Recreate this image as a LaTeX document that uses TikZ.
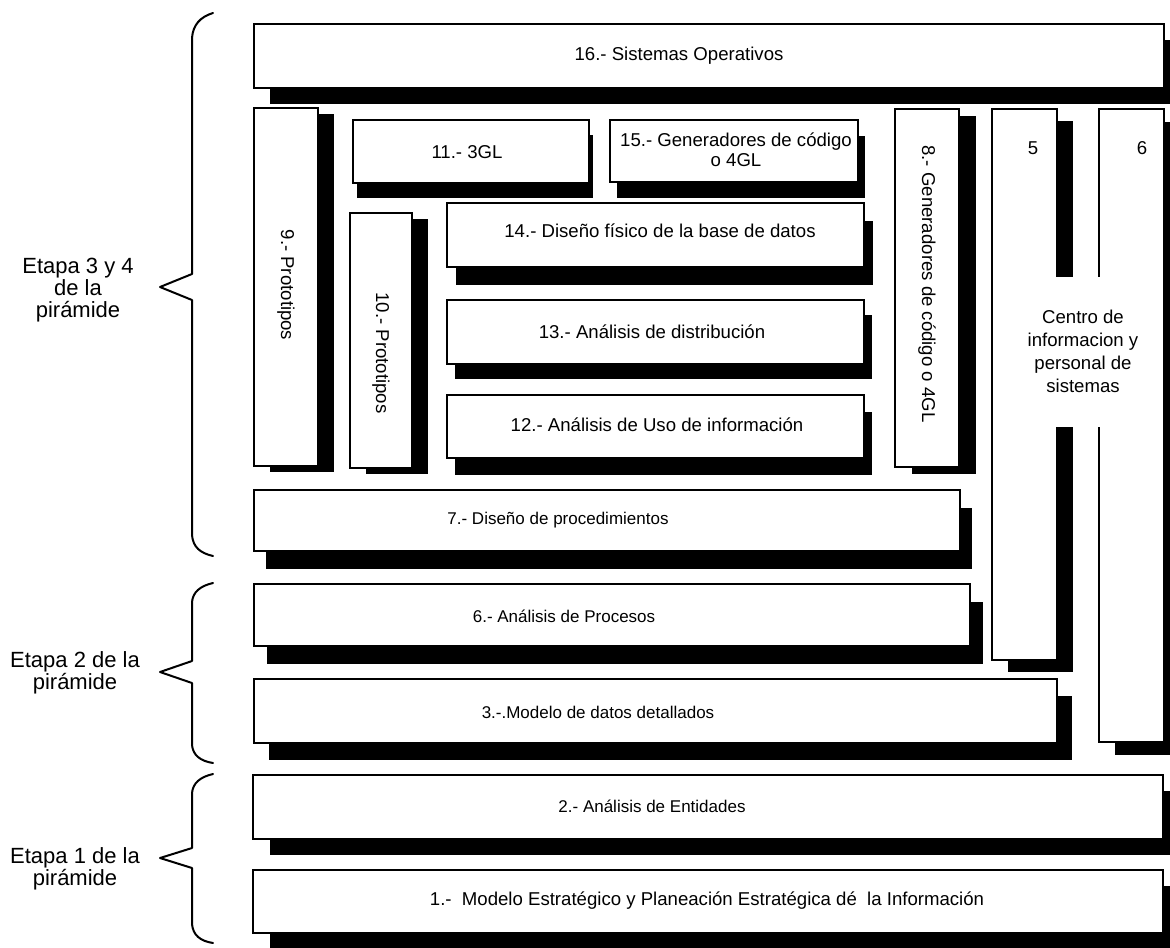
\documentclass[tikz,border=0pt]{standalone}
\usepackage{fontspec}
\setmainfont{Liberation Sans}
\usetikzlibrary{fit}
\newcommand\shbox[7]{% name, x1,y1,x2,y2,dx,dy
  \fill[black] ({#2+#6},{#3+#7}) rectangle ({#4+#6},{#5+#7});
  \node[box, fit={(#2,#3) (#4,#5)}] (#1) {};
}
\begin{document}
\begin{tikzpicture}[x=0.5pt,y=-0.5pt,
  box/.style={draw=black, line width=1.1pt, fill=white, inner sep=0pt, outer sep=0pt},
  txt/.style={font=\fontsize{9.3}{11.5}\selectfont, align=center, inner sep=0pt},
  txtb/.style={font=\fontsize{8.5}{10}\selectfont, align=center, inner sep=0pt},
  etapa/.style={font=\fontsize{11}{11}\selectfont, align=center, inner sep=0pt},
  brace/.style={draw=black, line width=1pt, line join=round, line cap=round}]
\clip (0,0) rectangle (1170,947);
\fill[white] (0,0) rectangle (1170,947);

% braces
\draw[brace] (213,13) .. controls (200,17) and (193,25) .. (192,38) -- (192,274) -- (160,287) -- (192,300) -- (192,535) .. controls (193,547) and (200,553) .. (213,556);
\draw[brace] (213,583) .. controls (200,586) and (193,592) .. (192,602) -- (192,661) -- (160,672) -- (192,683) -- (192,745) .. controls (193,755) and (200,761) .. (213,763);
\draw[brace] (213,774) .. controls (200,777) and (193,783) .. (192,793) -- (192,848) -- (160,858) -- (192,868) -- (192,924) .. controls (193,935) and (200,941) .. (213,943);

\node[etapa] (e34) at (78,290) {Etapa 3 y 4\\de la\\pirámide};
\node[etapa] (e2) at (75,673) {Etapa 2 de la\\pirámide};
\node[etapa] (e1) at (75,869) {Etapa 1 de la\\pirámide};

% boxes
\shbox{b16}{254}{24}{1164}{88}{16}{16}
\shbox{b9}{254}{108}{318}{466}{16}{6}
\shbox{b10}{350}{213}{412}{468}{16}{6}
\shbox{b11}{353}{120}{589}{183}{4}{15}
\shbox{b15}{610}{120}{858}{182}{7}{16}
\shbox{b14}{447}{203}{864}{267}{9}{18}
\shbox{b13}{447}{300}{864}{364}{8}{15}
\shbox{b12}{447}{395}{864}{458}{8}{17}
\shbox{b8}{895}{109}{959}{467}{17}{7}
\shbox{b5}{992}{109}{1057}{660}{16}{12}
\shbox{b6c}{1099}{109}{1164}{742}{16}{13}
\shbox{b7}{254}{490}{960}{551}{12}{18}
\shbox{b6}{254}{584}{970}{646}{13}{18}
\shbox{b3}{254}{679}{1057}{743}{15}{17}
\shbox{b2}{253}{775}{1163}{839}{17}{16}
\shbox{b1}{253}{870}{1163}{933}{17}{16}

% gap between columns 5 and 6
\fill[white] (1054,277) rectangle (1103,427);

% texts
\node[txt] (t16) at (679,56) {16.- Sistemas Operativos};
\node[txt, rotate=-90] (t9) at (286,285) {9.- Prototipos};
\node[txt, rotate=-90] (t10) at (381,353) {10.- Prototipos};
\node[txt] (t11) at (467,152) {11.- 3GL};
\node[txt, font=\fontsize{9.3}{10}\selectfont] (t15) at (736,150) {15.- Generadores de código\\o 4GL};
\node[txt] (t14) at (660,231) {14.- Diseño físico de la base de datos};
\node[txt] (t13) at (652,332) {13.- Análisis de distribución};
\node[txt] (t12) at (657,425) {12.- Análisis de Uso de información};
\node[txt, rotate=-90] (t8) at (927,284) {8.- Generadores de código o 4GL};
\node[txt] (t5) at (1033,148) {5};
\node[txt] (t6c) at (1142,148) {6};
\node[txt] (tc) at (1083,351) {Centro de\\informacion y\\personal de\\sistemas};
\node[txtb] (t7) at (558,520) {7.- Diseño de procedimientos};
\node[txtb] (t6) at (564,616) {6.- Análisis de Procesos};
\node[txtb] (t3) at (598,712) {3.-.Modelo de datos detallados};
\node[txtb] (t2) at (652,806) {2.- Análisis de Entidades};
\node[txt] (t1) at (707,901) {1.-\ \ Modelo Estratégico y Planeación Estratégica dé\ \ la Información};
\end{tikzpicture}
\end{document}
